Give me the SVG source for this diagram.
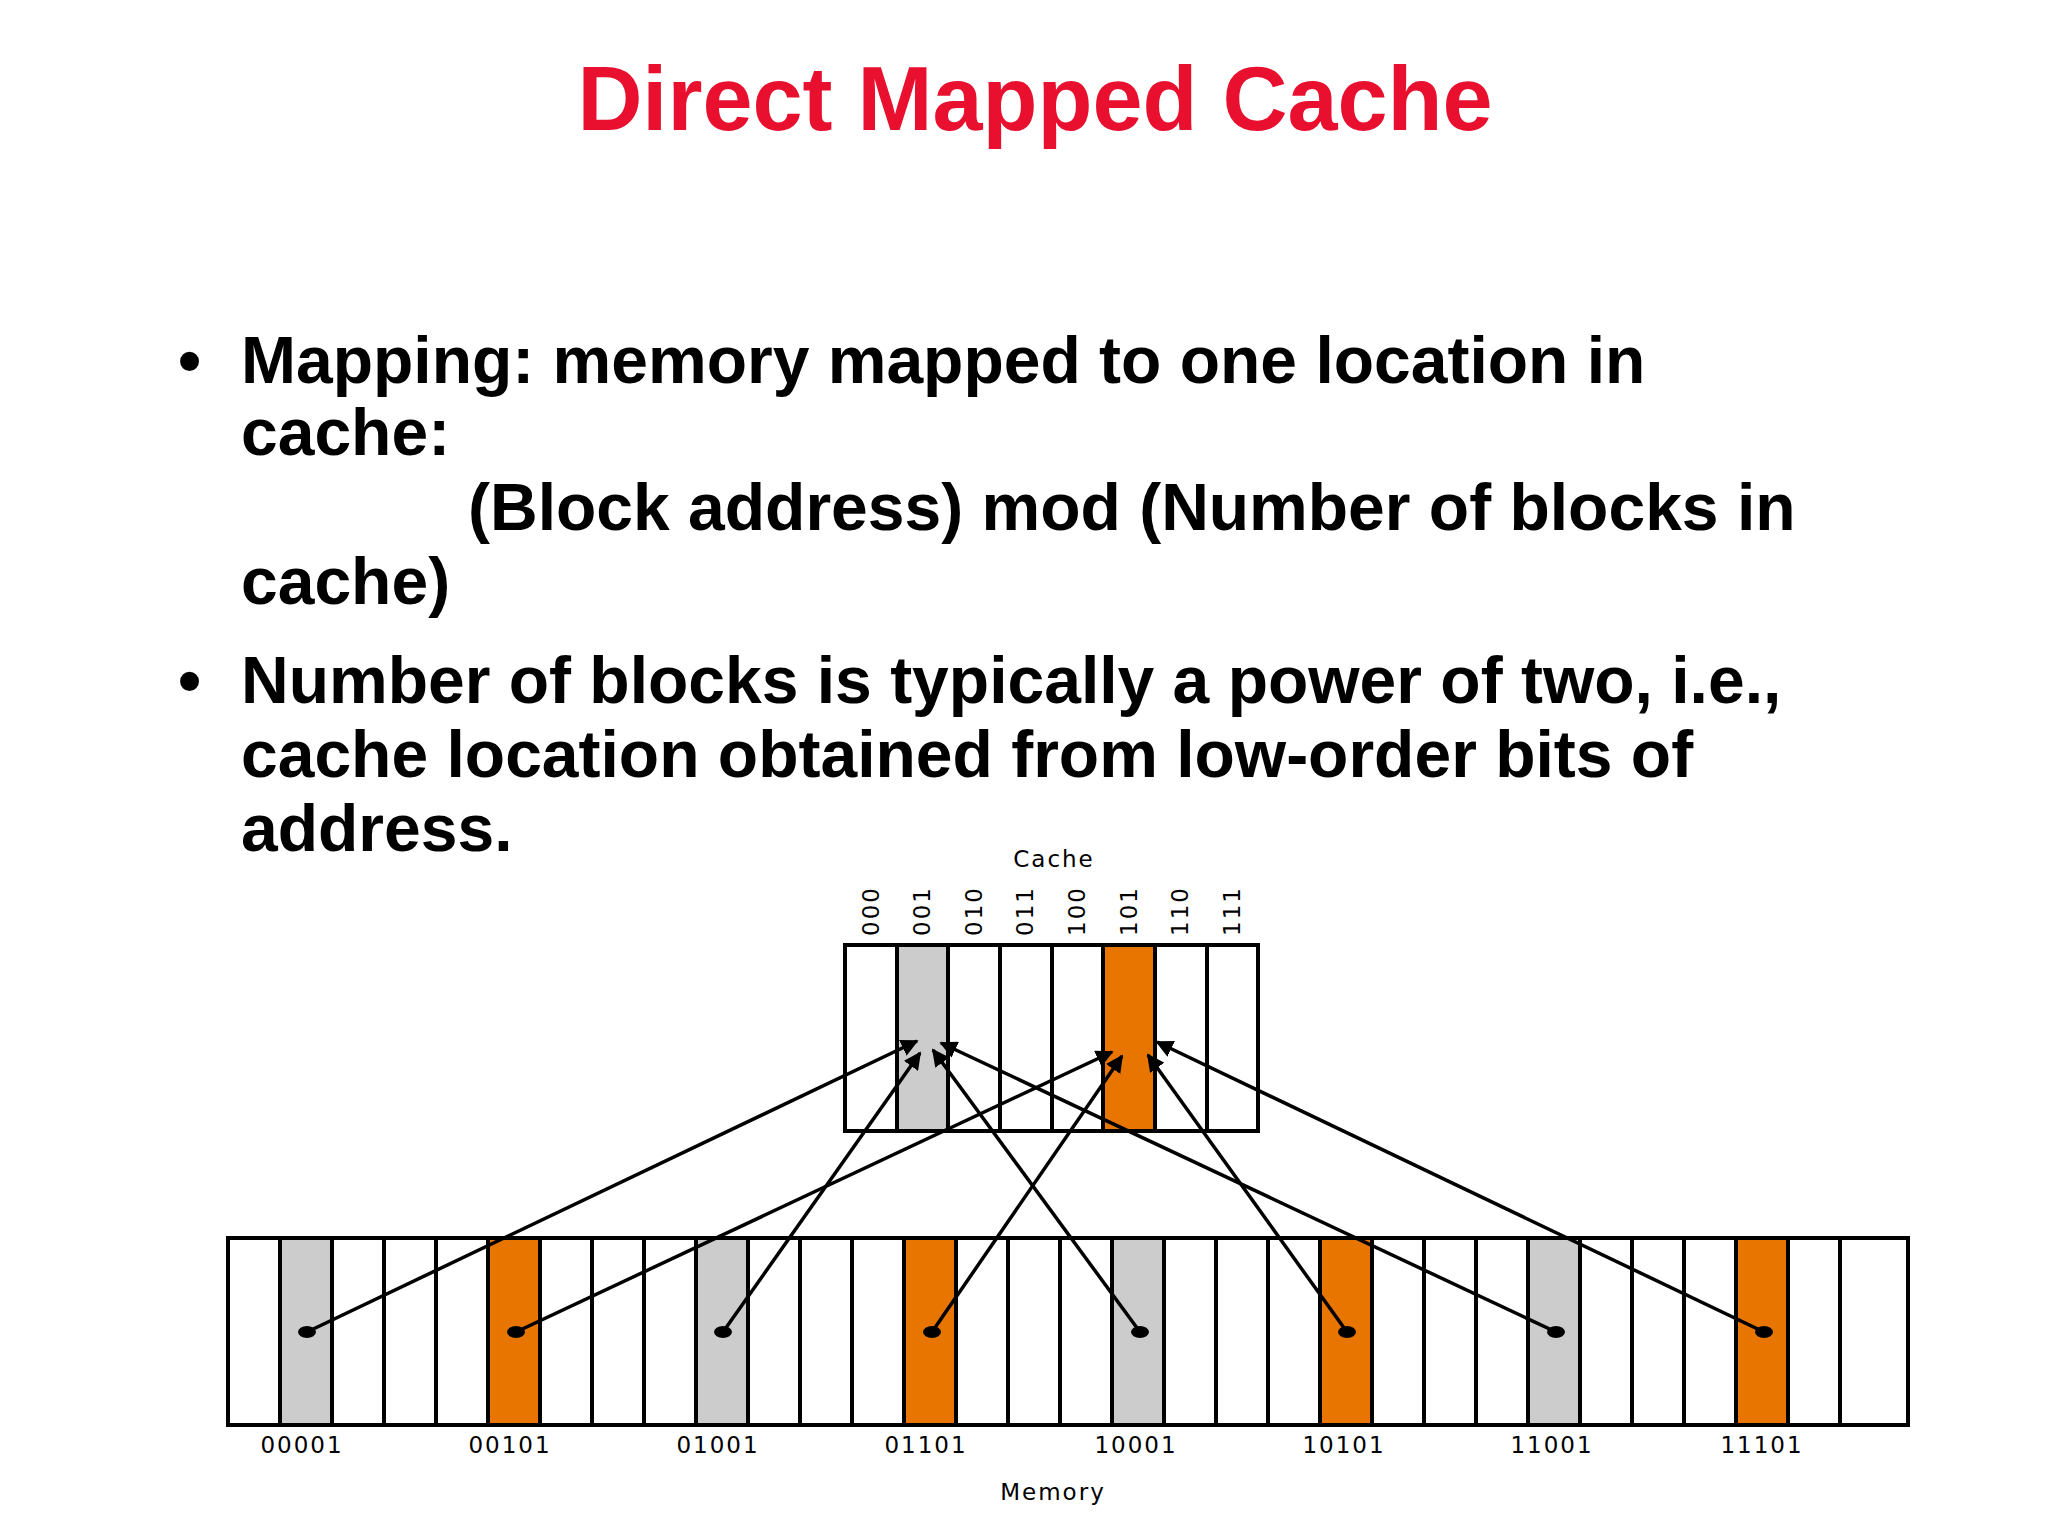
<svg xmlns="http://www.w3.org/2000/svg" width="2048" height="1536" viewBox="0 0 2048 1536">
<style>
.t{font-family:"Liberation Sans",Arial,sans-serif;font-weight:bold;font-size:66px;fill:#000}
.l{font-family:"DejaVu Sans",Verdana,sans-serif;font-size:23px;fill:#000;letter-spacing:2px}
.c{fill:#fff;stroke:#000;stroke-width:4}
.g{fill:#cccccc;stroke:#000;stroke-width:4}
.o{fill:#e87500;stroke:#000;stroke-width:4}
.a{stroke:#000;stroke-width:3.5;fill:none;marker-end:url(#ah)}
</style>
<defs>
<marker id="ah" viewBox="0 0 10 10" refX="9" refY="5" markerWidth="5" markerHeight="5" orient="auto"><path d="M0,0 L10,5 L0,10 z" fill="#000"/></marker>
</defs>
<rect width="2048" height="1536" fill="#fff"/>
<text x="1035" y="130" text-anchor="middle" style="font-family:'Liberation Sans',Arial,sans-serif;font-weight:bold;font-size:90px;fill:#e8102e">Direct Mapped Cache</text>
<g id="bullets" class="t">
<text x="178" y="383">•</text>
<text x="241" y="383">Mapping:  memory mapped to one location in</text>
<text x="241" y="455">cache:</text>
<text x="468" y="530">(Block address) mod (Number of blocks in</text>
<text x="241" y="604">cache)</text>
<text x="178" y="703">•</text>
<text x="241" y="703">Number of blocks is typically a power of two, i.e.,</text>
<text x="241" y="777">cache location obtained from low-order bits of</text>
<text x="241" y="851">address.</text>
</g>
<g id="cache">
<text class="l" x="1054" y="867" text-anchor="middle">Cache</text>
<rect class="c" x="845" y="945" width="52" height="186"/>
<rect class="g" x="897" y="945" width="51" height="186"/>
<rect class="c" x="948" y="945" width="52" height="186"/>
<rect class="c" x="1000" y="945" width="52" height="186"/>
<rect class="c" x="1052" y="945" width="51" height="186"/>
<rect class="o" x="1103" y="945" width="52" height="186"/>
<rect class="c" x="1155" y="945" width="52" height="186"/>
<rect class="c" x="1207" y="945" width="51" height="186"/>
<g class="l">
<text transform="translate(879,936) rotate(-90)">000</text>
<text transform="translate(930,936) rotate(-90)">001</text>
<text transform="translate(982,936) rotate(-90)">010</text>
<text transform="translate(1033,936) rotate(-90)">011</text>
<text transform="translate(1085,936) rotate(-90)">100</text>
<text transform="translate(1137,936) rotate(-90)">101</text>
<text transform="translate(1188,936) rotate(-90)">110</text>
<text transform="translate(1240,936) rotate(-90)">111</text>
</g>
</g>
<g id="memory">
<rect class="c" x="228" y="1238" width="1680" height="187"/>
<g stroke="#000" stroke-width="4">
<line x1="280" y1="1238" x2="280" y2="1425"/><line x1="332" y1="1238" x2="332" y2="1425"/><line x1="384" y1="1238" x2="384" y2="1425"/><line x1="436" y1="1238" x2="436" y2="1425"/><line x1="488" y1="1238" x2="488" y2="1425"/><line x1="540" y1="1238" x2="540" y2="1425"/><line x1="592" y1="1238" x2="592" y2="1425"/><line x1="644" y1="1238" x2="644" y2="1425"/><line x1="696" y1="1238" x2="696" y2="1425"/><line x1="748" y1="1238" x2="748" y2="1425"/><line x1="800" y1="1238" x2="800" y2="1425"/><line x1="852" y1="1238" x2="852" y2="1425"/><line x1="904" y1="1238" x2="904" y2="1425"/><line x1="956" y1="1238" x2="956" y2="1425"/><line x1="1008" y1="1238" x2="1008" y2="1425"/><line x1="1060" y1="1238" x2="1060" y2="1425"/><line x1="1112" y1="1238" x2="1112" y2="1425"/><line x1="1164" y1="1238" x2="1164" y2="1425"/><line x1="1216" y1="1238" x2="1216" y2="1425"/><line x1="1268" y1="1238" x2="1268" y2="1425"/><line x1="1320" y1="1238" x2="1320" y2="1425"/><line x1="1372" y1="1238" x2="1372" y2="1425"/><line x1="1424" y1="1238" x2="1424" y2="1425"/><line x1="1476" y1="1238" x2="1476" y2="1425"/><line x1="1528" y1="1238" x2="1528" y2="1425"/><line x1="1580" y1="1238" x2="1580" y2="1425"/><line x1="1632" y1="1238" x2="1632" y2="1425"/><line x1="1684" y1="1238" x2="1684" y2="1425"/><line x1="1736" y1="1238" x2="1736" y2="1425"/><line x1="1788" y1="1238" x2="1788" y2="1425"/><line x1="1840" y1="1238" x2="1840" y2="1425"/>
</g>
<rect class="g" x="280" y="1238" width="52" height="187"/>
<rect class="o" x="488" y="1238" width="52" height="187"/>
<rect class="g" x="696" y="1238" width="52" height="187"/>
<rect class="o" x="904" y="1238" width="52" height="187"/>
<rect class="g" x="1112" y="1238" width="52" height="187"/>
<rect class="o" x="1320" y="1238" width="52" height="187"/>
<rect class="g" x="1528" y="1238" width="52" height="187"/>
<rect class="o" x="1736" y="1238" width="52" height="187"/>
<g class="l" text-anchor="middle">
<text x="302" y="1453">00001</text><text x="510" y="1453">00101</text><text x="718" y="1453">01001</text><text x="926" y="1453">01101</text><text x="1136" y="1453">10001</text><text x="1344" y="1453">10101</text><text x="1552" y="1453">11001</text><text x="1762" y="1453">11101</text>
<text x="1053" y="1500">Memory</text>
</g>
</g>
<g id="connectors">
<g fill="#000">
<ellipse cx="307" cy="1332" rx="9" ry="6"/><ellipse cx="516" cy="1332" rx="9" ry="6"/><ellipse cx="723" cy="1332" rx="9" ry="6"/><ellipse cx="932" cy="1332" rx="9" ry="6"/><ellipse cx="1140" cy="1332" rx="9" ry="6"/><ellipse cx="1347" cy="1332" rx="9" ry="6"/><ellipse cx="1556" cy="1332" rx="9" ry="6"/><ellipse cx="1764" cy="1332" rx="9" ry="6"/>
</g>
<path class="a" d="M307,1332 L917,1041"/>
<path class="a" d="M723,1332 L920,1053"/>
<path class="a" d="M1140,1332 L933,1050"/>
<path class="a" d="M1556,1332 L941,1043"/>
<path class="a" d="M516,1332 L1112,1052"/>
<path class="a" d="M932,1332 L1122,1056"/>
<path class="a" d="M1347,1332 L1148,1055"/>
<path class="a" d="M1764,1332 L1157,1042"/>
</g>
</svg>
